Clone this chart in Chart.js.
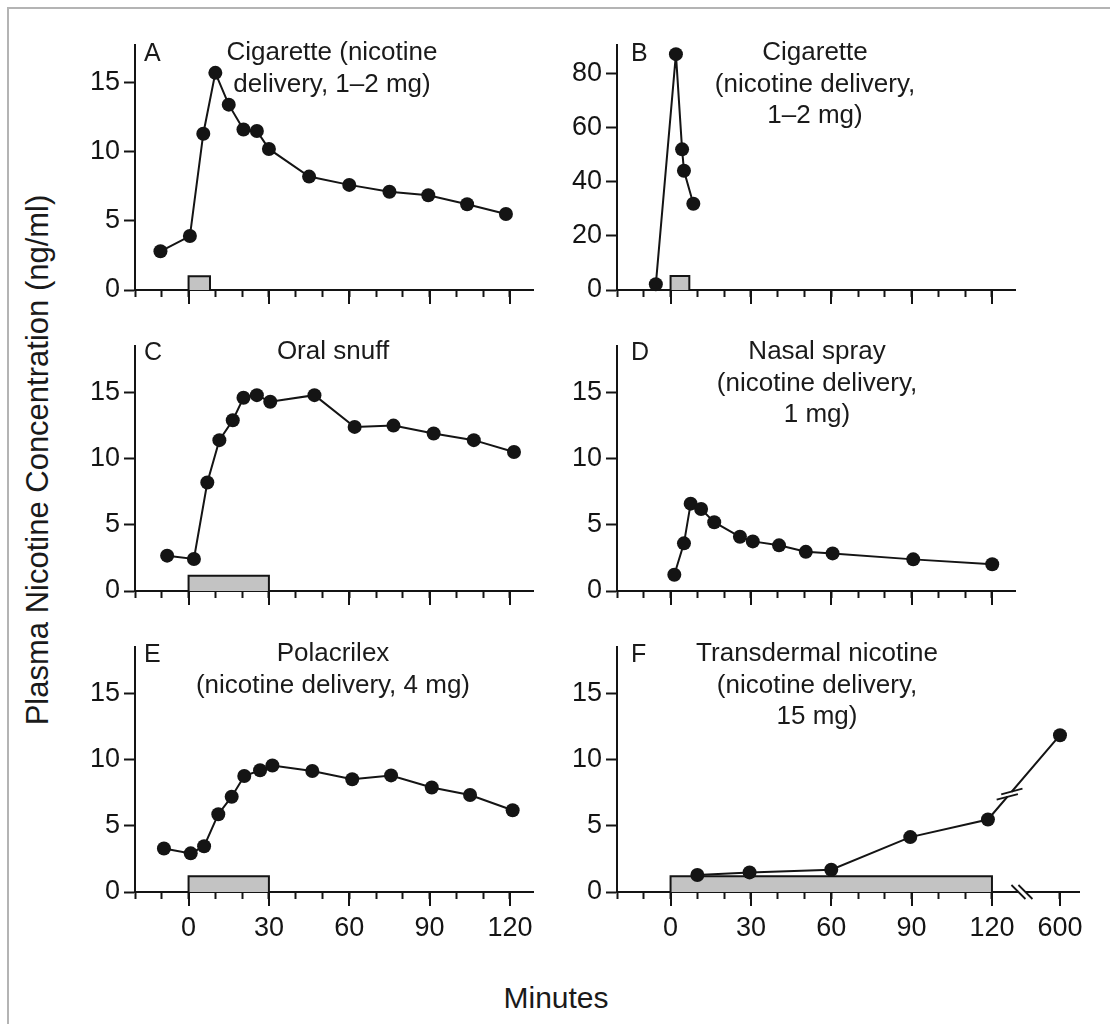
<!DOCTYPE html>
<html>
<head>
<meta charset="utf-8">
<script src="https://cdn.jsdelivr.net/npm/chart.js@4/dist/chart.umd.min.js"></script>
<style>
  body { margin: 0; background: #fff; }
  #page { position: relative; width: 1110px; height: 1024px; overflow: hidden; background: #fff;
          font-family: 'Liberation Sans', Arial, Helvetica, sans-serif; color: #1a1a1a; }
  #frame { position: absolute; left: 7px; top: 7px; width: 1200px; height: 1100px;
           border-left: 2px solid #b4b4b4; border-top: 2px solid #b4b4b4; }
  canvas { position: absolute; }
  .ttl { position: absolute; width: 420px; text-align: center; font-size: 26px; line-height: 31.5px; }
  .let { position: absolute; font-size: 25px; line-height: 30px; }
  #ytitle { position: absolute; left: 38px; top: 460px; font-size: 31px; white-space: nowrap;
            transform: translate(-50%, -50%) rotate(-90deg); }
  #xtitle { position: absolute; left: 556px; top: 998px; font-size: 30px; white-space: nowrap;
            transform: translate(-50%, -50%); }
</style>
</head>
<body>
<div id="page">
  <div id="frame"></div>
  <canvas id="cA" width="503" height="290" style="left:60px;top:25px"></canvas>
  <canvas id="cB" width="503" height="290" style="left:542px;top:25px"></canvas>
  <canvas id="cC" width="503" height="290" style="left:60px;top:326px"></canvas>
  <canvas id="cD" width="503" height="290" style="left:542px;top:326px"></canvas>
  <canvas id="cE" width="503" height="325" style="left:60px;top:627px"></canvas>
  <canvas id="cF" width="567" height="325" style="left:542px;top:627px"></canvas>

  <div class="let" style="left:144px;top:37px">A</div>
  <div class="let" style="left:631px;top:37px">B</div>
  <div class="let" style="left:144px;top:336px">C</div>
  <div class="let" style="left:631px;top:336px">D</div>
  <div class="let" style="left:144px;top:638px">E</div>
  <div class="let" style="left:631px;top:638px">F</div>

  <div class="ttl" style="left:122px;top:36px">Cigarette (nicotine<br>delivery, 1–2 mg)</div>
  <div class="ttl" style="left:605px;top:36px">Cigarette<br>(nicotine delivery,<br>1–2 mg)</div>
  <div class="ttl" style="left:123px;top:335px">Oral snuff</div>
  <div class="ttl" style="left:607px;top:335px">Nasal spray<br>(nicotine delivery,<br>1 mg)</div>
  <div class="ttl" style="left:123px;top:637px">Polacrilex<br>(nicotine delivery, 4 mg)</div>
  <div class="ttl" style="left:607px;top:637px">Transdermal nicotine<br>(nicotine delivery,<br>15 mg)</div>

  <div id="ytitle">Plasma Nicotine Concentration (ng/ml)</div>
  <div id="xtitle">Minutes</div>
</div>

<script>
// --- данные (минуты / нг/мл) ---
const minutesA = [-10.5, 0.5, 5.5, 10, 15, 20.5, 25.5, 30, 45, 60, 75, 89.5, 104, 118.5];
const plasmaA  = [2.8, 3.9, 11.3, 15.7, 13.4, 11.6, 11.5, 10.2, 8.2, 7.6, 7.1, 6.85, 6.2, 5.5];
const doseA = [0, 8, 1.0];          // начало, конец, высота полоски

const minutesB = [-5.5, 2, 4.3, 5, 8.5];
const plasmaB  = [2.1, 87.2, 52, 44.1, 31.9];
const doseB = [0, 7, 5.2];

const minutesC = [-8, 2, 7, 11.5, 16.5, 20.5, 25.5, 30.5, 47, 62, 76.5, 91.5, 106.5, 121.5];
const plasmaC  = [2.67, 2.42, 8.2, 11.4, 12.9, 14.6, 14.8, 14.3, 14.8, 12.4, 12.5, 11.9, 11.4, 10.5];
const doseC = [0, 30, 1.16];

const minutesD = [1.4, 5, 7.5, 11.4, 16.3, 25.9, 30.7, 40.5, 50.5, 60.5, 90.6, 120.1];
const plasmaD  = [1.23, 3.6, 6.6, 6.2, 5.2, 4.1, 3.75, 3.45, 2.96, 2.84, 2.39, 2.02];

const minutesE = [-9.2, 0.8, 5.8, 11.1, 16.1, 20.8, 26.7, 31.3, 46.2, 61.1, 75.6, 90.8, 105.1, 121];
const plasmaE  = [3.29, 2.92, 3.46, 5.88, 7.2, 8.77, 9.2, 9.56, 9.14, 8.52, 8.81, 7.9, 7.33, 6.18];
const doseE = [0, 30, 1.19];

const minutesF = [10, 29.5, 60, 89.5, 118.5, 600];
const plasmaF  = [1.29, 1.48, 1.68, 4.15, 5.48, 11.85];
const doseF = [0, 120, 1.19];

const minorTicks = [-20, -10, 0, 10, 20, 30, 40, 50, 60, 70, 80, 90, 100, 110, 120];
const majorTicks = [0, 30, 60, 90, 120];
const tickLabels = ['0', '30', '60', '90', '120'];

// разрыв оси на панели F: 600 мин ставим сразу после 120
const BREAK_POS = 145.4;
function axisPosF(m) { return m > 130 ? BREAK_POS : m; }

const FONT = "'Liberation Sans', Arial, Helvetica, sans-serif";
const INK = '#141414';

function toPoints(xs, ys, f) {
  return xs.map((x, i) => ({ x: f ? f(x) : x, y: ys[i] }));
}
function doseBox(d) {
  return [{x: d[0], y: 0}, {x: d[0], y: d[2]}, {x: d[1], y: d[2]}, {x: d[1], y: 0}];
}

// длинные засечки и знаки разрыва
const extraMarks = {
  id: 'extraMarks',
  afterDraw(chart, args, opts) {
    const ctx = chart.ctx, xs = chart.scales.x, ys = chart.scales.y;
    ctx.save();
    ctx.strokeStyle = INK;
    ctx.lineWidth = 2;
    (opts.major || []).forEach(v => {
      const px = Math.round(xs.getPixelForValue(v));
      ctx.beginPath();
      ctx.moveTo(px, ys.bottom);
      ctx.lineTo(px, ys.bottom + 14);
      ctx.stroke();
    });
    if (opts.axisBreak !== undefined) {
      const cx = xs.getPixelForValue(opts.axisBreak), cy = ys.bottom;
      ctx.strokeStyle = '#fff';
      ctx.lineWidth = 6;
      ctx.beginPath(); ctx.moveTo(cx - 3, cy); ctx.lineTo(cx + 3, cy); ctx.stroke();
      ctx.strokeStyle = INK;
      ctx.lineWidth = 1.8;
      [-3.5, 3.5].forEach(o => {
        ctx.beginPath();
        ctx.moveTo(cx + o - 7, cy - 7);
        ctx.lineTo(cx + o + 7, cy + 7);
        ctx.stroke();
      });
    }
    if (opts.lineBreak) {
      const lb = opts.lineBreak;
      const pts = chart.getDatasetMeta(lb.dataset).data;
      const a = pts[lb.from], b = pts[lb.to];
      const mx = a.x + (b.x - a.x) * lb.t, my = a.y + (b.y - a.y) * lb.t;
      const len = Math.hypot(b.x - a.x, b.y - a.y);
      const ux = (b.x - a.x) / len, uy = (b.y - a.y) / len;
      ctx.strokeStyle = '#fff';
      ctx.lineWidth = 6;
      ctx.beginPath(); ctx.moveTo(mx - ux * 3, my - uy * 3); ctx.lineTo(mx + ux * 3, my + uy * 3); ctx.stroke();
      ctx.strokeStyle = INK;
      ctx.lineWidth = 1.8;
      const dx = Math.cos(15 * Math.PI / 180) * 11, dy = -Math.sin(15 * Math.PI / 180) * 11;
      [-3.5, 3.5].forEach(o => {
        const cx = mx + ux * o, cy = my + uy * o;
        ctx.beginPath();
        ctx.moveTo(cx - dx, cy - dy);
        ctx.lineTo(cx + dx, cy + dy);
        ctx.stroke();
      });
    }
    ctx.restore();
  }
};

function makePanel(id, cfg) {
  const datasets = [{
    data: cfg.points,
    showLine: true,
    borderColor: INK,
    borderWidth: 2,
    backgroundColor: INK,
    pointRadius: 7,
    pointBorderWidth: 0,
    tension: 0,
    clip: false,
    order: 1
  }];
  if (cfg.dose) {
    datasets.push({
      data: doseBox(cfg.dose),
      showLine: true,
      borderColor: INK,
      borderWidth: 2,
      backgroundColor: '#c3c3c3',
      fill: 'origin',
      pointRadius: 0,
      tension: 0,
      clip: false,
      order: 2
    });
  }
  new Chart(document.getElementById(id), {
    type: 'scatter',
    data: { datasets: datasets },
    plugins: [extraMarks],
    options: {
      responsive: false,
      animation: false,
      events: [],
      layout: { padding: { top: 15, right: 30, left: 0, bottom: 0 } },
      plugins: {
        legend: { display: false },
        tooltip: { enabled: false },
        extraMarks: { major: cfg.major, axisBreak: cfg.axisBreak, lineBreak: cfg.lineBreak }
      },
      scales: {
        x: {
          type: 'linear',
          min: -20,
          max: cfg.xMax,
          afterBuildTicks: s => { s.ticks = cfg.xTicks.map(v => ({ value: v })); },
          afterFit: s => { s.height = cfg.labels ? 60 : 25; },
          grid: { drawOnChartArea: false, drawTicks: true, tickLength: 7, tickWidth: 2, tickColor: INK },
          border: { display: true, color: INK, width: 2 },
          ticks: {
            display: !!cfg.labels,
            autoSkip: false, maxRotation: 0, minRotation: 0,
            padding: 13,
            color: INK,
            font: { family: FONT, size: 27 },
            callback: v => {
              const k = cfg.major.indexOf(v);
              return (cfg.labels && k >= 0) ? cfg.labels[k] : '';
            }
          }
        },
        y: {
          type: 'linear',
          min: 0,
          max: cfg.yMax,
          afterFit: s => { s.width = 75; },
          grid: { drawOnChartArea: false, drawTicks: true, tickLength: 11, tickWidth: 2, tickColor: INK },
          border: { display: true, color: INK, width: 2 },
          ticks: {
            stepSize: cfg.yStep,
            includeBounds: false,
            padding: 4,
            color: INK,
            font: { family: FONT, size: 27 }
          }
        }
      }
    }
  });
}

makePanel('cA', { points: toPoints(minutesA, plasmaA), dose: doseA, yMax: 17.7, yStep: 5,
  xMax: 128.6, xTicks: minorTicks, major: majorTicks });
makePanel('cB', { points: toPoints(minutesB, plasmaB), dose: doseB, yMax: 90.5, yStep: 20,
  xMax: 128.6, xTicks: minorTicks, major: majorTicks });
makePanel('cC', { points: toPoints(minutesC, plasmaC), dose: doseC, yMax: 18.5, yStep: 5,
  xMax: 128.6, xTicks: minorTicks, major: majorTicks });
makePanel('cD', { points: toPoints(minutesD, plasmaD), yMax: 18.5, yStep: 5,
  xMax: 128.6, xTicks: minorTicks, major: majorTicks });
makePanel('cE', { points: toPoints(minutesE, plasmaE), dose: doseE, yMax: 18.5, yStep: 5,
  xMax: 128.6, xTicks: minorTicks, major: majorTicks, labels: tickLabels });
makePanel('cF', { points: toPoints(minutesF, plasmaF, axisPosF), dose: doseF, yMax: 18.5, yStep: 5,
  xMax: 152.5, xTicks: minorTicks.concat([BREAK_POS]), major: majorTicks.concat([BREAK_POS]),
  labels: tickLabels.concat(['600']), axisBreak: 131.2,
  lineBreak: { dataset: 0, from: 4, to: 5, t: 0.3 } });
</script>
</body>
</html>
